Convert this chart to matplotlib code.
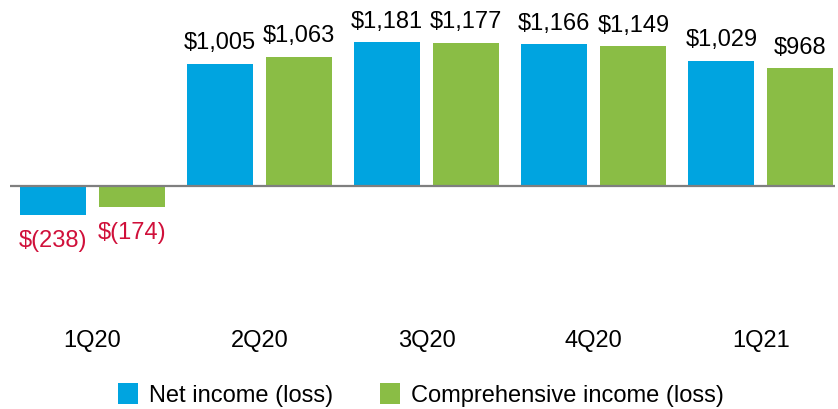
import matplotlib.pyplot as plt
import numpy as np
from matplotlib.patches import Patch

plt.rcParams['font.family'] = ['Liberation Sans', 'DejaVu Sans']

quarters = ['1Q20', '2Q20', '3Q20', '4Q20', '1Q21']
net_income = [-238, 1005, 1181, 1166, 1029]
comprehensive_income = [-174, 1063, 1177, 1149, 968]
series_names = ['Net income (loss)', 'Comprehensive income (loss)']

BLUE = '#00A4E0'
GREEN = '#8ABD45'
RED = '#D0103A'
W, H = 838, 409
PX_PER_UNIT = 0.1213
BASE_PX = 185.7


def fmt(v):
    if v < 0:
        return f'$({abs(v):,})'
    return f'${v:,}'


fig = plt.figure(figsize=(W / 100, H / 100), dpi=100)
ax = fig.add_axes([10 / W, 0, 825 / W, 1])
ax.set_ylim(-(H - BASE_PX) / PX_PER_UNIT, BASE_PX / PX_PER_UNIT)
ax.set_xlim(-0.494, 4.443)
ax.axis('off')

x = np.arange(len(quarters))
bw = 0.395
off = 0.2365
for vals, color, dx in [(net_income, BLUE, -off), (comprehensive_income, GREEN, off)]:
    ax.bar(x + dx, vals, width=bw, color=color, zorder=2)
    for xi, v in zip(x + dx, vals):
        if v >= 0:
            ax.annotate(fmt(v), (xi, v), xytext=(0, 7), textcoords='offset points',
                        ha='center', va='bottom', fontsize=17, color='black')
        else:
            ax.annotate(fmt(v), (xi, v), xytext=(0, -11), textcoords='offset points',
                        ha='center', va='top', fontsize=17, color=RED)

ax.axhline(0, color='#7f7f7f', lw=1.6, zorder=3)

label_y = -(341 - BASE_PX) / PX_PER_UNIT
for xi, q in zip(x, quarters):
    ax.text(xi, label_y, q, ha='center', va='center', fontsize=17)

handles = [Patch(facecolor=BLUE), Patch(facecolor=GREEN)]
fig.legend(handles, series_names, loc='center', bbox_to_anchor=(421 / W, 1 - 395 / H),
           ncol=2, frameon=False, fontsize=17, handlelength=0.85, handleheight=1.0,
           handletextpad=0.47, columnspacing=1.95, borderpad=0)

fig.savefig('out.png', dpi=100)
